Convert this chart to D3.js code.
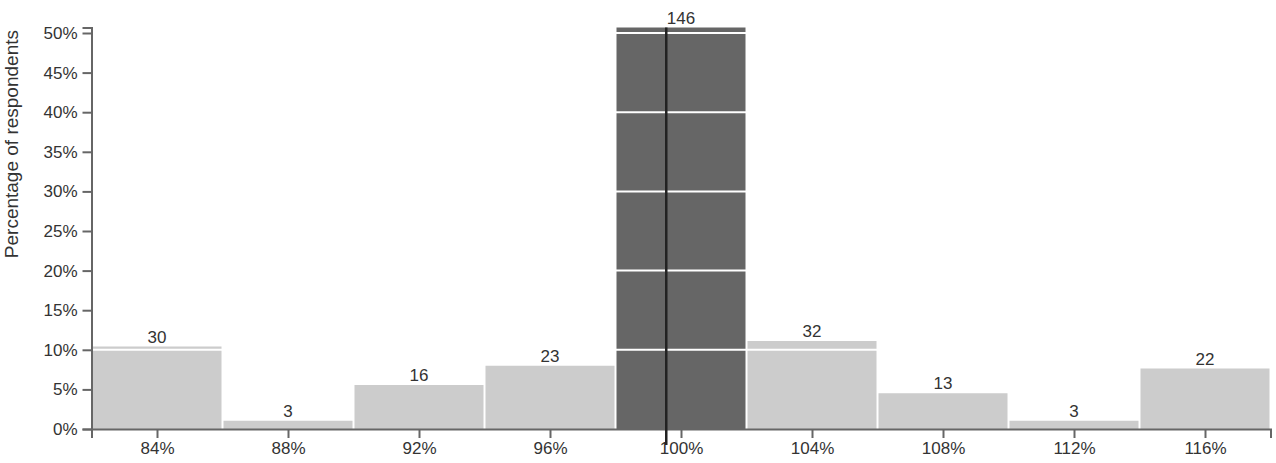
<!DOCTYPE html>
<html>
<head>
<meta charset="utf-8">
<script src="https://cdn.jsdelivr.net/npm/d3@7"></script>
<style>
  body { margin: 0; background: #fff; }
  text { font-family: "Liberation Sans", Arial, sans-serif; fill: #333; }
</style>
</head>
<body>
<script>
// histogram of respondents, bins 4 points wide
let binStarts = [82, 86, 90, 94, 98, 102, 106, 110, 114];
let counts = [30, 3, 16, 23, 146, 32, 13, 3, 22];
let tickValues = [84, 88, 92, 96, 100, 104, 108, 112, 116];
let highlightBin = 98;
let markerValue = 99.55;
let binWidth = 4;

let width = 1276;
let height = 463;
let fontSize = 17;

let total = d3.sum(counts);
let data = binStarts.map((b, i) => ({ x0: b, x1: b + binWidth, n: counts[i], p: counts[i] / total }));

let x = d3.scaleLinear().domain([82, 118]).range([91.5, 1270.5]);
let y = d3.scaleLinear().domain([0, d3.max(data, d => d.p)]).range([429, 27.5]);

let svg = d3.select('body')
  .append('svg')
  .attr('width', width)
  .attr('height', height);

svg.selectAll('rect.bar')
  .data(data)
  .enter().append('rect')
  .attr('class', 'bar')
  .attr('x', d => x(d.x0) + 1)
  .attr('width', d => x(d.x1) - x(d.x0) - 2)
  .attr('y', d => y(d.p))
  .attr('height', d => y(0) - y(d.p))
  .style('fill', d => d.x0 === highlightBin ? '#666' : '#ccc');

// white grid lines every 10%
svg.selectAll('line.grid')
  .data(d3.range(0.1, 0.51, 0.1))
  .enter().append('line')
  .attr('class', 'grid')
  .attr('x1', x(82))
  .attr('x2', x(118))
  .attr('y1', d => y(d))
  .attr('y2', d => y(d))
  .style('stroke', '#fff')
  .style('stroke-width', 2);

svg.selectAll('text.count')
  .data(data)
  .enter().append('text')
  .attr('class', 'count')
  .attr('x', d => x(d.x0 + binWidth / 2))
  .attr('y', d => y(d.p) - 4)
  .attr('text-anchor', 'middle')
  .style('font-size', fontSize + 'px')
  .text(d => d.n);

let xAxis = svg.append('g')
  .attr('transform', 'translate(0,' + y(0) + ')')
  .call(d3.axisBottom(x).tickValues(tickValues).tickSize(9).tickPadding(4).tickFormat(d => d + '%'));

let yAxis = svg.append('g')
  .attr('transform', 'translate(' + x(82) + ',0)')
  .call(d3.axisLeft(y).ticks(10).tickSize(9).tickPadding(5).tickFormat(d3.format('.0%')));

[xAxis, yAxis].forEach(g => {
  g.selectAll('path, line').style('stroke', '#666').style('stroke-width', 2);
  g.selectAll('text').style('font-size', fontSize + 'px').style('font-family', '"Liberation Sans", Arial, sans-serif').style('fill', '#333');
});

// marker line
svg.append('line')
  .attr('x1', x(markerValue))
  .attr('x2', x(markerValue))
  .attr('y1', y(d3.max(data, d => d.p)))
  .attr('y2', y(0) + 16)
  .style('stroke', '#222')
  .style('stroke-width', 2.5);

svg.append('text')
  .attr('transform', 'rotate(-90)')
  .attr('x', -30)
  .attr('y', 18)
  .attr('text-anchor', 'end')
  .style('font-size', '19px')
  .text('Percentage of respondents');
</script>
</body>
</html>
